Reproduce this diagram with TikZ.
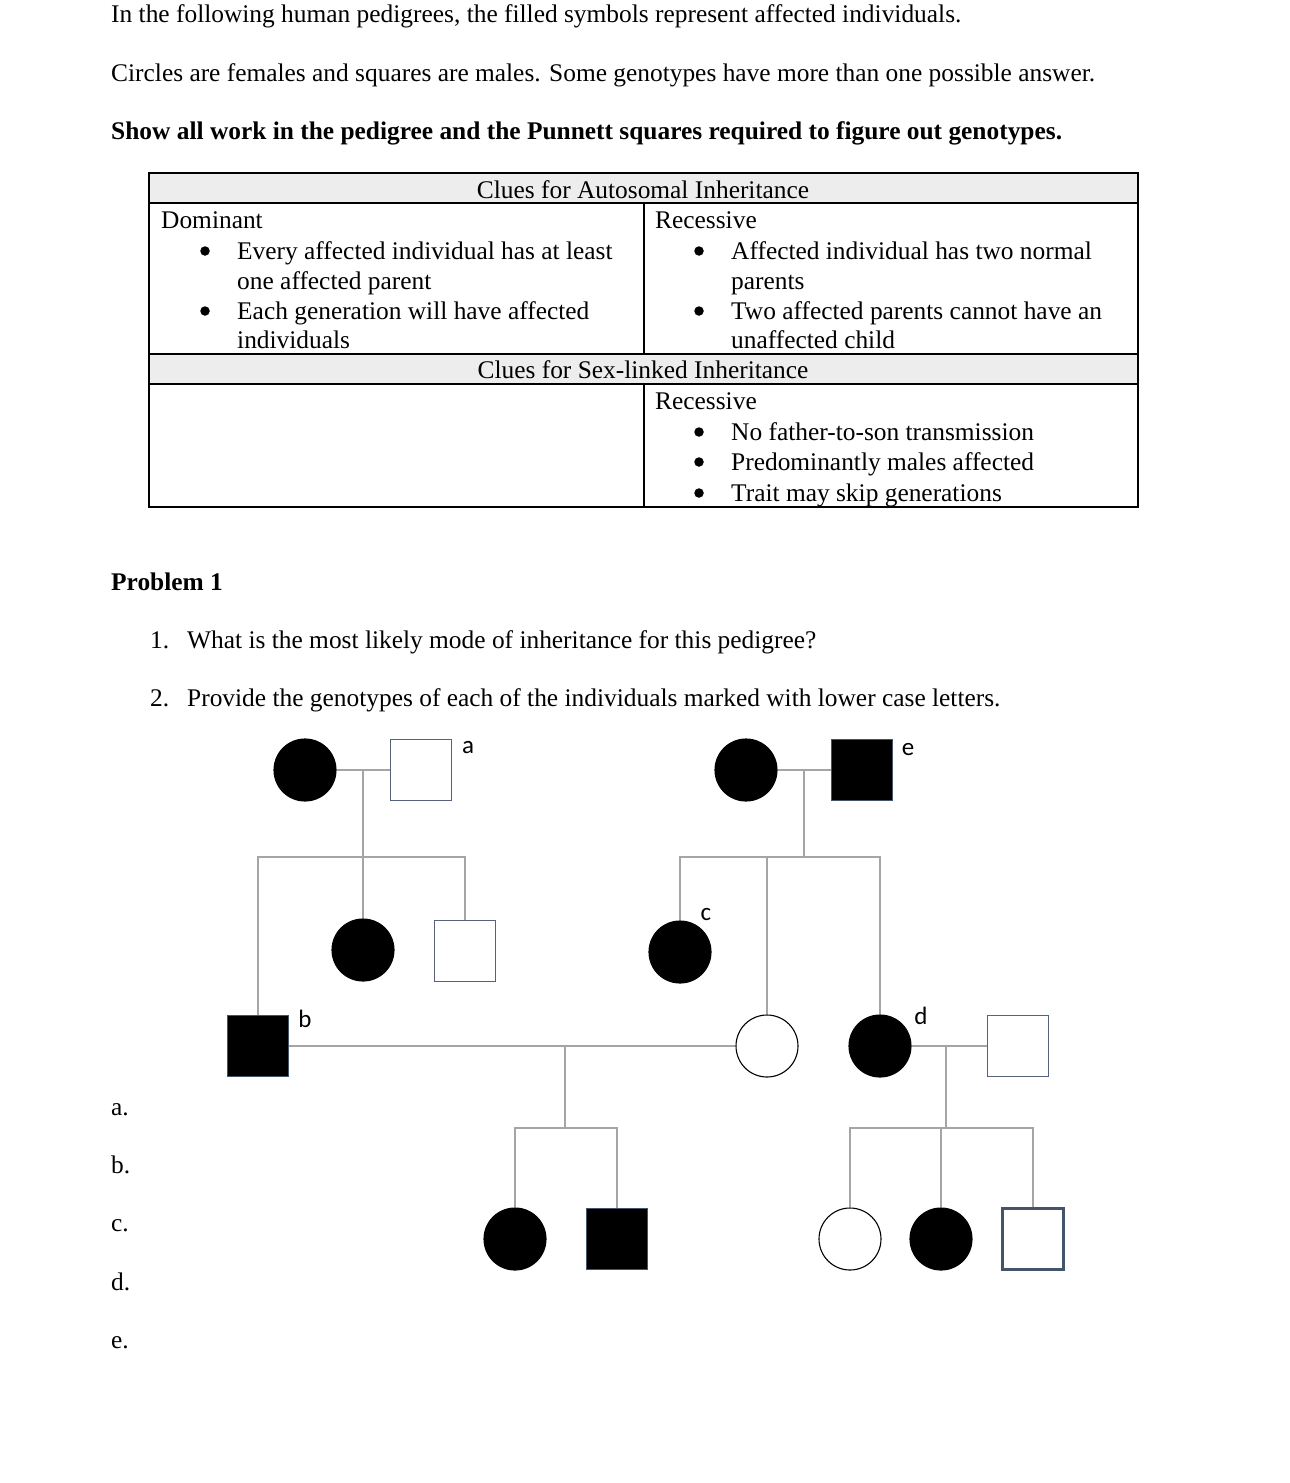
\documentclass[tikz,border=0pt]{standalone}
\usepackage{fontspec}
\setmainfont{Liberation Serif}
\newfontfamily\labfont{Carlito}
\definecolor{linegray}{HTML}{A5A5A5}
\definecolor{sqblue}{HTML}{56617C}
\definecolor{sqdark}{HTML}{44546A}
\definecolor{hdrgray}{HTML}{EDEDED}
\begin{document}
\begin{tikzpicture}[x=1pt,y=-1pt,
  txt/.style={anchor=base west,inner sep=0pt,font=\fontsize{25.4}{30}\selectfont},
  ctxt/.style={anchor=base,inner sep=0pt,font=\fontsize{25.4}{30}\selectfont},
  bul/.style={circle,fill=black,inner sep=0pt,minimum size=9.5pt},
  pline/.style={draw=linegray,line width=1.4pt},
  fem/.style={circle,draw=black,line width=1.1pt,minimum size=62pt,inner sep=0pt},
  aff/.style={fill=black},
  mal/.style={rectangle,draw=sqblue,line width=1.4pt,minimum size=61pt,inner sep=0pt},
  affm/.style={fill=black,draw=sqdark},
  lab/.style={font=\labfont\fontsize{25}{30}\selectfont,inner sep=0pt},
  rule/.style={line width=1.5pt}]
\useasboundingbox (0,0) rectangle (1290,1483);
\fill[white] (0,0) rectangle (1290,1483);
% header text
\node[txt] (t1) at (111,22) {In the following human pedigrees, the filled symbols represent affected individuals.};
\node[txt] (t2) at (111,81) {Circles are females and squares are males. Some genotypes have more than one possible answer.};
\node[txt,font=\fontsize{25.4}{30}\selectfont\bfseries] (t3) at (111,139) {Show all work in the pedigree and the Punnett squares required to figure out genotypes.};
% table
\fill[hdrgray] (149,173) rectangle (1138,203);
\fill[hdrgray] (149,354) rectangle (1138,384);
\draw[rule] (149,173) rectangle (1138,507);
\draw[rule] (149,203) -- (1138,203);
\draw[rule] (149,354) -- (1138,354);
\draw[rule] (149,384) -- (1138,384);
\draw[rule] (644,203) -- (644,354);
\draw[rule] (644,384) -- (644,507);
\node[ctxt] (h1) at (643,198) {Clues for Autosomal Inheritance};
\node[ctxt] (h2) at (643,378) {Clues for Sex-linked Inheritance};
\node[txt] (dom) at (161,228) {Dominant};
\node[bul] (b1) at (205,251) {};
\node[txt] (d1) at (237,259) {Every affected individual has at least};
\node[txt] (d1b) at (237,289) {one affected parent};
\node[bul] (b2) at (205,311) {};
\node[txt] (d2) at (237,319) {Each generation will have affected};
\node[txt] (d2b) at (237,348) {individuals};
\node[txt] (rec) at (655,228) {Recessive};
\node[bul] (b3) at (699,251) {};
\node[txt] (r1) at (731,259) {Affected individual has two normal};
\node[txt] (r1b) at (731,289) {parents};
\node[bul] (b4) at (699,311) {};
\node[txt] (r2) at (731,319) {Two affected parents cannot have an};
\node[txt] (r2b) at (731,348) {unaffected child};
\node[txt] (rec2) at (655,409) {Recessive};
\node[bul] (b5) at (699,432) {};
\node[txt] (s1t) at (731,440) {No father-to-son transmission};
\node[bul] (b6) at (699,462) {};
\node[txt] (s2t) at (731,470) {Predominantly males affected};
\node[bul] (b7) at (699,493) {};
\node[txt] (s3t) at (731,501) {Trait may skip generations};
% problem
\node[txt,font=\fontsize{25.4}{30}\selectfont\bfseries] (p1) at (111,590) {Problem 1};
\node[txt] (q1n) at (150,648) {1.};
\node[txt] (q1) at (187,648) {What is the most likely mode of inheritance for this pedigree?};
\node[txt] (q2n) at (150,706) {2.};
\node[txt] (q2) at (187,706) {Provide the genotypes of each of the individuals marked with lower case letters.};
\node[txt] (la) at (111,1115) {a.};
\node[txt] (lb) at (111,1173) {b.};
\node[txt] (lc) at (111,1231) {c.};
\node[txt] (ld) at (111,1290) {d.};
\node[txt] (le) at (111,1348) {e.};
% pedigree individuals
\node[fem,aff] (I1) at (305,770) {};
\node[mal] (Ia) at (421,770) {};
\node[fem,aff] (I3) at (746,770) {};
\node[mal,affm] (Ie) at (862,770) {};
\node[mal,affm] (IIb) at (258,1046) {};
\node[fem,aff] (II2) at (363,950) {};
\node[mal] (II3) at (465,951) {};
\node[fem,aff] (IIc) at (680,952) {};
\node[fem] (II5) at (767,1046) {};
\node[fem,aff] (IId) at (880,1046) {};
\node[mal] (II7) at (1018,1046) {};
\node[fem,aff] (III1) at (515,1239) {};
\node[mal,affm] (III2) at (617,1239) {};
\node[fem] (III3) at (850,1239) {};
\node[fem,aff] (III4) at (941,1239) {};
\node[mal,draw=sqdark,line width=3pt] (III5) at (1033,1239) {};
% labels
\node[lab,anchor=base] (na) at (468,753) {a};
\node[lab,anchor=base] (ne) at (908,755) {e};
\node[lab,anchor=base] (nc) at (706,920) {c};
\node[lab,anchor=base] (nb) at (305,1027) {b};
\node[lab,anchor=base] (nd) at (921,1024) {d};
% connectors
\coordinate (m1) at (363,770);
\coordinate (s1) at (363,857);
\coordinate (m2) at (804,770);
\coordinate (s2) at (804,857);
\coordinate (m3) at (565,1046);
\coordinate (s3) at (565,1128);
\coordinate (m4) at (946,1046);
\coordinate (s4) at (946,1128);
\draw[pline] (I1.east) -- (Ia.west);
\draw[pline] (m1) -- (s1);
\draw[pline] (IIb.north) |- (II3.north |- s1) -- (II3.north);
\draw[pline] (II2.north) -- (II2.north |- s1);
\draw[pline] (I3.east) -- (Ie.west);
\draw[pline] (m2) -- (s2);
\draw[pline] (IIc.north) |- (IId.north |- s2) -- (IId.north);
\draw[pline] (II5.north) -- (II5.north |- s2);
\draw[pline] (IIb.east) -- (II5.west);
\draw[pline] (m3) -- (s3);
\draw[pline] (III1.north) |- (III2.north |- s3) -- (III2.north);
\draw[pline] (IId.east) -- (II7.west);
\draw[pline] (m4) -- (s4);
\draw[pline] (III3.north) |- (III5.north |- s4) -- (III5.north);
\draw[pline] (III4.north) -- (III4.north |- s4);
\end{tikzpicture}
\end{document}
